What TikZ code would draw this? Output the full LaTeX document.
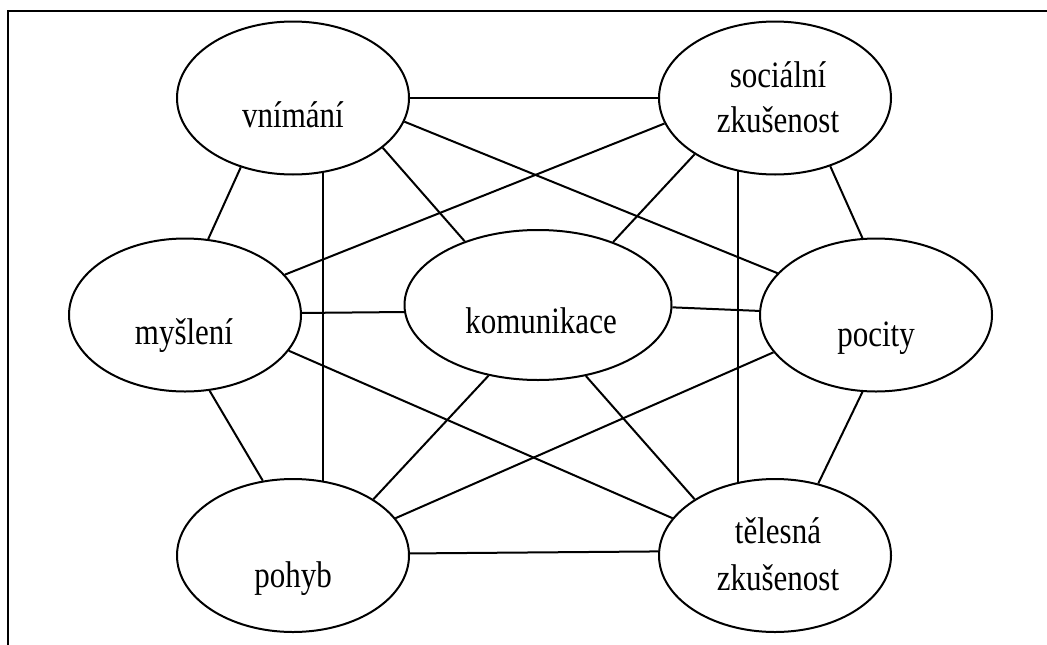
\documentclass[tikz,border=0pt]{standalone}
\usepackage{fontspec}
\setmainfont{Liberation Serif}
\usetikzlibrary{shapes.geometric}
\newcommand{\tallword}[1]{\scalebox{1}[1.2]{#1}}
\begin{document}
\begin{tikzpicture}[x=1pt,y=-1pt,
  bubble/.style={draw, ellipse, line width=2pt, inner sep=0pt,
                 minimum width=232pt, minimum height=153pt},
  hub/.style={bubble, minimum width=267pt, minimum height=150pt},
  caption/.style={anchor=base, inner sep=0pt, font=\fontsize{31}{40}\selectfont},
  link/.style={line width=2pt},
  frame/.style={line width=2pt}]
\useasboundingbox (0,0) rectangle (1047,645);

% open frame: top and left edges only
\draw[frame] (8,645) -- (8,11) -- (1047,11);

% the seven ellipses
\node[bubble] (vn) at (293,98)    {};
\node[bubble] (so) at (775,98)    {};
\node[bubble] (my) at (185,315)   {};
\node[hub]    (ko) at (538,305)   {};
\node[bubble] (po) at (876,315)   {};
\node[bubble] (ph) at (293,555.5) {};
\node[bubble] (te) at (775,555.5) {};

% texts, set a little below each ellipse's centre
\node[caption] (vn-t)  at (293,127) {\tallword{vnímání}};
\node[caption] (so-t1) at (778,87)  {\tallword{sociální}};
\node[caption] (so-t2) at (778,132) {\tallword{zkušenost}};
\node[caption] (my-t)  at (184,344) {\tallword{myšlení}};
\node[caption] (ko-t)  at (541,333) {\tallword{komunikace}};
\node[caption] (po-t)  at (876,346) {\tallword{pocity}};
\node[caption] (ph-t)  at (293,587) {\tallword{pohyb}};
\node[caption] (te-t1) at (778,543) {\tallword{tělesná}};
\node[caption] (te-t2) at (778,590) {\tallword{zkušenost}};

% connectors
\draw[link] (vn.east)   -- (so.west);
\draw[link] (vn.-12.5)  -- (po.157.6);
\draw[link] (vn.-29.8)  -- (ko.139.5);
\draw[link] (vn.-127)   -- (my.73.4);
\draw[link] (vn.-68.6)  -- (ph.68.6);

\draw[link] (so.-167.9) -- (my.22.8);
\draw[link] (so.-145.5) -- (ko.40.5);
\draw[link] (so.-117.9) -- (te.117.9);
\draw[link] (so.-51.5)  -- (po.100.3);

\draw[link] (my.1.5)    -- (ko.183);
\draw[link] (my.-19.4)  -- (te.160.4);
\draw[link] (my.-72)    -- (ph.112.6);

\draw[link] (ko.-1.7)   -- (po.178);
\draw[link] (ko.-125.7) -- (ph.35.5);
\draw[link] (ko.-56.9)  -- (te.145.7);

\draw[link] (po.-160.9) -- (ph.20.2);
\draw[link] (po.-100.3) -- (te.59.1);

\draw[link] (ph.1.5)    -- (te.178.5);
\end{tikzpicture}
\end{document}
